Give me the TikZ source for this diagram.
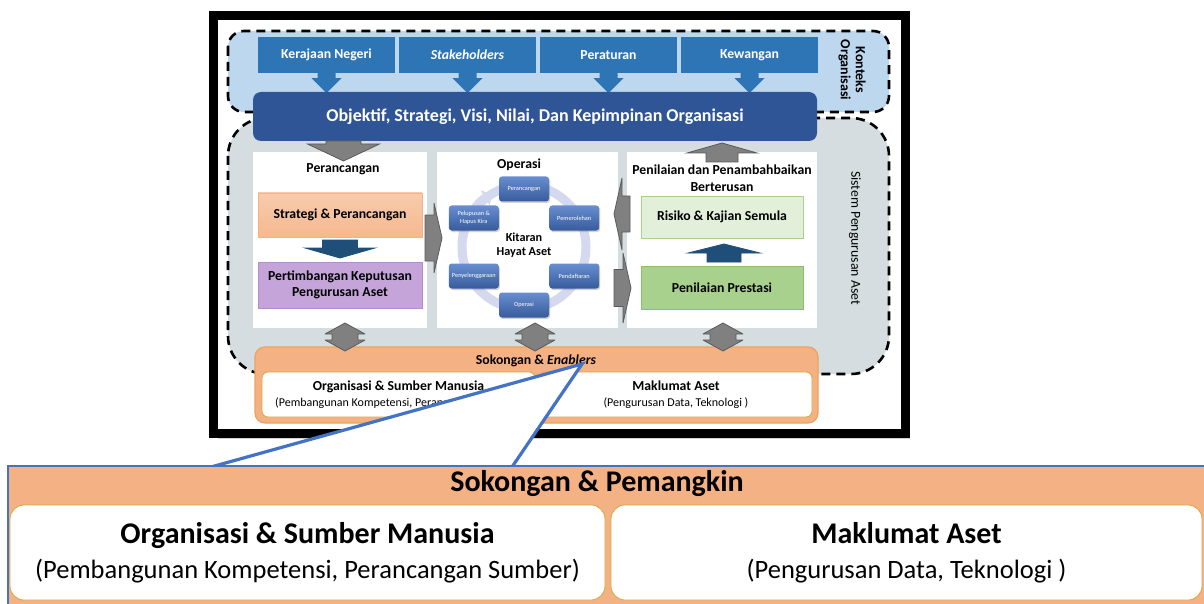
\documentclass[tikz,border=0pt]{standalone}
\usepackage{fontspec}
\setmainfont{Carlito}
\usetikzlibrary{arrows.meta,shadows}
\definecolor{ctxblue}{HTML}{BDD7EE}
\definecolor{topblue}{HTML}{2E75B6}
\definecolor{objblue}{HTML}{2F5597}
\definecolor{sysgray}{HTML}{D5DDE0}
\definecolor{arrgray}{HTML}{808080}
\definecolor{arrline}{HTML}{5A5A5A}
\definecolor{navy}{HTML}{1F4E79}
\definecolor{orng}{HTML}{F4B183}
\definecolor{orngline}{HTML}{EBA45E}
\definecolor{gold}{HTML}{D8A73E}
\definecolor{salmon}{HTML}{F8CBAD}
\definecolor{lilac}{HTML}{C5A5D9}
\definecolor{lilacline}{HTML}{B18ECB}
\definecolor{palegreen}{HTML}{E2F0D9}
\definecolor{leafgreen}{HTML}{A9D18E}
\definecolor{leafline}{HTML}{8CBE6B}
\definecolor{ringblue}{HTML}{D4D9EF}
\definecolor{cycblue}{HTML}{4472C4}

\begin{document}
\begin{tikzpicture}[x=1pt,y=-1pt,
		lbl/.style={font=\fontsize{13.75}{16.5}\selectfont\bfseries,align=center,inner sep=0pt},
		region/.style={draw=black,line width=2.6pt,dash pattern=on 9pt off 6pt},
		grayarrow/.style={fill=arrgray,draw=arrline,line width=0.8pt,line join=bevel},
		topbox/.style={lbl,fill=topblue,text=white,minimum width=137,minimum height=36},
		panel/.style={fill=white,minimum height=176},
		innerbox/.style={lbl,minimum width=164,minimum height=44,line width=0.8pt},
		cycbox/.style={top color=cycblue!80!white,bottom color=cycblue!80!black,rounded corners=3pt,text=white,minimum width=50,minimum height=25,inner sep=1pt,align=center,font=\fontsize{6.3}{7.5}\selectfont,drop shadow={opacity=0.35,shadow xshift=1pt,shadow yshift=-1.5pt}},
		ring/.style={draw=ringblue,line width=9pt},
		wbox/.style={fill=white,draw=gold,line width=0.8pt,rounded corners=6pt,align=center,inner sep=0pt},
		callout/.style={draw=cycblue,line width=3.2pt}]
	\newdimen\R
	\R=62pt
	\useasboundingbox (0,0) rectangle (1204,604);
	\draw[line width=9pt,fill=white,drop shadow={opacity=0.35,shadow xshift=4pt,shadow yshift=-5pt}] (213.5,15.5) rectangle (905.5,433.5);
	\draw[region,fill=ctxblue,rounded corners=16pt] (228,31) rectangle (889,112);
	\draw[region,fill=sysgray,rounded corners=38pt] (228,118) rectangle (889,374);
	\node[lbl,rotate=-90,font=\fontsize{14}{15}\selectfont\bfseries] (konteks) at (852,70) {Konteks\\Organisasi};
	\node[lbl,rotate=-90,font=\fontsize{13.75}{16}\selectfont] (sistem) at (855,238) {Sistem Pengurusan Aset};
	\foreach \i/\t in {1/Kerajaan Negeri,2/\textit{Stakeholders},3/Peraturan,4/Kewangan}
	{
		\node[topbox] (top\i) at (185.5+141*\i,55) {\t};
		\fill[topblue] (top\i.south) ++(-9,-1) -- ++(0,6) -- ++(-6,0) -- ++(15,15) -- ++(15,-15) -- ++(-6,0) -- ++(0,-6) -- cycle;
	}
	\node[lbl,fill=objblue,text=white,rounded corners=8pt,minimum width=564,minimum height=49,font=\fontsize{18}{20}\selectfont\bfseries] (obj) at (535,116.5) {Objektif, Strategi, Visi, Nilai, Dan Kepimpinan Organisasi};
	\foreach \n/\x/\w in {plan/340/174,ops/527.5/181,eval/722/190}
		\node[panel,minimum width=\w] (\n) at (\x,240) {};
	\node[lbl] (plantitle) at (343,169) {Perancangan};
	\node[innerbox,top color=salmon,bottom color=orng!70!salmon,draw=orng] (strat) at (340,215) {Strategi \& Perancangan};
	\node[innerbox,fill=lilac,draw=lilacline,minimum height=46] (keput) at (340,285) {Pertimbangan Keputusan\\Pengurusan Aset};
	\node[lbl] (evaltitle) at (722,178) {Penilaian dan Penambahbaikan\\Berterusan};
	\node[innerbox,fill=palegreen,draw=leafgreen,minimum width=162,minimum height=42] (risiko) at (722,217) {Risiko \& Kajian Semula};
	\node[innerbox,fill=leafgreen,draw=leafline,minimum width=162,minimum height=43] (prestasi) at (722,287.5) {Penilaian Prestasi};
	\node[lbl] (opstitle) at (519,165) {Operasi};
	\coordinate (cyc) at (524,247);
	\draw[ring] (cyc) circle[radius=\R];
	\draw[ring,-{Triangle[width=17pt,length=8pt]}] ([shift={(170:\R)}]cyc) arc[start angle=170,end angle=121,radius=\R];
	\foreach \a/\t [count=\i] in {90/Perancangan,30/Pemerolehan,-30/Pendaftaran,-90/Operasi,210/Penyelenggaraan,150/{Pelupusan \&\\Hapus Kira}}
		\node[cycbox] (cyc\i) at ([shift={(\a:\R-4pt)}]cyc) {\t};
	\node[lbl,font=\fontsize{12.2}{14}\selectfont\bfseries] (kitaran) at (524,245) {Kitaran\\Hayat Aset};
	\foreach \cx/\ya/\yb/\yc/\s/\h/\fc/\dc in {343.5/141/144/161/17.5/36/arrgray/arrline,722/162/153/143/16/35/arrgray/arrline,340/240/248/258/17.5/35/navy/navy,724/262/253/244/17/36/navy/navy}
		\draw[fill=\fc,draw=\dc,line width=0.8pt] (\cx-\s,\ya) -- (\cx-\s,\yb) -- (\cx-\h,\yb) -- (\cx,\yc) -- (\cx+\h,\yb) -- (\cx+\s,\yb) -- (\cx+\s,\ya) -- cycle;
	\foreach \cy/\xa/\xb/\xc/\s/\h in {238/425/434/442/23/35,214/630/622/614/18/36,288/614/623/631/18.5/35}
		\draw[grayarrow] (\xa,\cy-\s) -- (\xb,\cy-\s) -- (\xb,\cy-\h) -- (\xc,\cy) -- (\xb,\cy+\h) -- (\xb,\cy+\s) -- (\xa,\cy+\s) -- cycle;
	\node[fill=orng,draw=orngline,line width=1.2pt,rounded corners=10pt,minimum width=563,minimum height=76] (sok) at (536.5,385) {};
	\foreach \x in {345,535,723}
		\draw[grayarrow] (\x,323) -- (\x+20,334) -- (\x+13,334) -- (\x+13,340) -- (\x+20,340) -- (\x,351) -- (\x-20,340) -- (\x-13,340) -- (\x-13,334) -- (\x-20,334) -- cycle;
	\node[lbl] (soktitle) at (536,361) {Sokongan \& \textit{Enablers}};
	\foreach \n/\x/\w/\a/\b in {org/398.5/273/{Organisasi \& Sumber Manusia}/{(Pembangunan Kompetensi, Perancangan Sumber)},mak/676/272/{Maklumat Aset}/{(Pengurusan Data, Teknologi )}}
		\node[wbox,minimum width=\w,minimum height=45,font=\fontsize{13.75}{16}\selectfont] (\n) at (\x,394.5) {\textbf{\a}\\{\fontsize{12}{16}\selectfont\b}};
	\coordinate (tip) at (582,364);
	\coordinate (cl) at (211,467);
	\coordinate (cr) at (512,467);
	\fill[white] (tip) -- (cl) -- (cr) -- cycle;
	\draw[callout] (cl) -- (tip) -- (cr);
	\draw[draw=cycblue,line width=2pt,fill=orng] (8,466) rectangle (1220,620);
	\node[font=\fontsize{30}{36}\selectfont\bfseries] (pem) at (597,484) {Sokongan \& Pemangkin};
	\foreach \n/\x/\w/\a/\b in {orgbig/307.5/595/{Organisasi \& Sumber Manusia}/{(Pembangunan Kompetensi, Perancangan Sumber)},makbig/906.5/591/{Maklumat Aset}/{(Pengurusan Data, Teknologi )}}
		\node[wbox,rounded corners=14pt,minimum width=\w,minimum height=95,font=\fontsize{30}{35}\selectfont] (\n) at (\x,552.5) {\textbf{\a}\\{\fontsize{26.5}{35}\selectfont\b}};
\end{tikzpicture}
\end{document}
